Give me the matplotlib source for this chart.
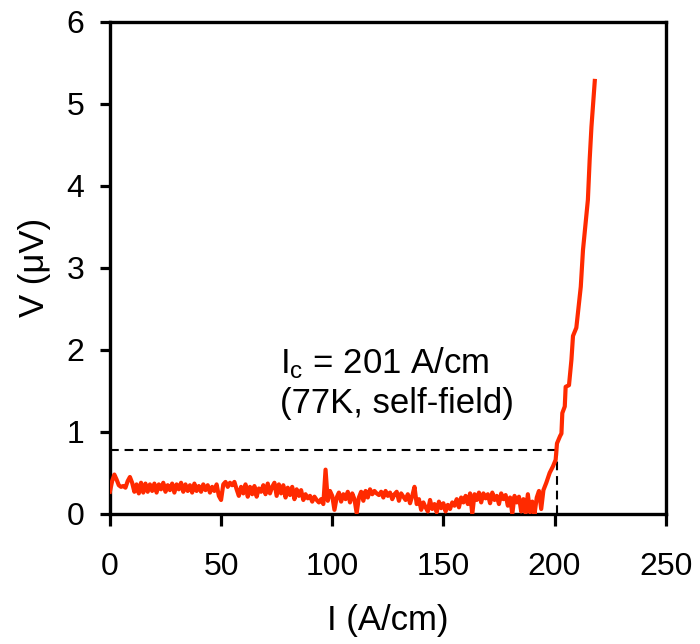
import matplotlib
matplotlib.use("Agg")
import matplotlib.pyplot as plt
import numpy as np

plt.rcParams['font.family'] = ['Liberation Sans', 'DejaVu Sans']
plt.rcParams['mathtext.fontset'] = 'custom'
plt.rcParams['mathtext.rm'] = 'Liberation Sans'
plt.rcParams['mathtext.it'] = 'Liberation Sans:italic'

# Noise region, I = 0..194 A/cm (step 1)
noise_v = [
    0.27, 0.40, 0.48, 0.42, 0.35, 0.33, 0.34, 0.32, 0.40, 0.45,
    0.38, 0.27, 0.36, 0.25, 0.38, 0.26, 0.37, 0.27, 0.36, 0.28,
    0.37, 0.26, 0.36, 0.30, 0.38, 0.27, 0.35, 0.29, 0.37, 0.26,
    0.36, 0.30, 0.38, 0.27, 0.36, 0.28, 0.35, 0.26, 0.37, 0.28,
    0.34, 0.27, 0.36, 0.29, 0.35, 0.26, 0.33, 0.28, 0.36, 0.22,
    0.17, 0.36, 0.39, 0.33, 0.38, 0.35, 0.39, 0.30, 0.22, 0.33,
    0.25, 0.36, 0.21, 0.33, 0.24, 0.34, 0.21, 0.31, 0.27, 0.35,
    0.24, 0.37, 0.25, 0.33, 0.38, 0.22, 0.36, 0.25, 0.35, 0.20,
    0.32, 0.23, 0.33, 0.18, 0.30, 0.22, 0.29, 0.17, 0.24, 0.19,
    0.22, 0.15, 0.21, 0.17, 0.14, 0.18, 0.12, 0.54, 0.16, 0.28,
    0.22, 0.05, 0.20, 0.26, 0.15, 0.24, 0.18, 0.27, 0.14, 0.25,
    0.18, 0.01, 0.20, 0.27, 0.16, 0.28, 0.20, 0.30, 0.24, 0.28,
    0.25, 0.23, 0.27, 0.20, 0.28, 0.22, 0.26, 0.18, 0.24, 0.27,
    0.16, 0.25, 0.21, 0.17, 0.24, 0.13, 0.22, 0.33, 0.12, 0.18,
    0.05, 0.14, 0.08, 0.03, 0.17, 0.06, 0.12, 0.02, 0.15, 0.07,
    0.13, 0.03, 0.11, 0.06, 0.14, 0.10, 0.18, 0.08, 0.20, 0.14,
    0.22, 0.12, 0.25, 0.00, 0.24, 0.17, 0.26, 0.14, 0.25, 0.19,
    0.24, 0.13, 0.26, 0.17, 0.22, 0.12, 0.25, 0.18, 0.23, 0.10,
    0.20, 0.00, 0.22, 0.14, 0.21, 0.03, 0.18, 0.01, 0.24, 0.02,
    0.15, 0.00, 0.20, 0.28, 0.06,
]
noise_i = list(range(len(noise_v)))

# Transition region
rise_i = [195, 196.3, 197.8, 199.3, 200.5, 201.1, 202.5, 203.1, 203.5, 204.6,
          205, 206.5, 207.6, 208.3, 209.8, 211.8, 212.8, 215.0, 215.8, 216.6, 218.1]
rise_v = [0.29, 0.38, 0.50, 0.58, 0.66, 0.86, 0.95, 0.98, 1.23, 1.31,
          1.55, 1.57, 1.88, 2.17, 2.27, 2.77, 3.22, 3.83, 4.32, 4.72, 5.28]

ic = 201
vc = 0.78

x_ticks = [0, 50, 100, 150, 200, 250]
y_ticks = [0, 1, 2, 3, 4, 5, 6]

I = noise_i + rise_i
V = noise_v + rise_v

fig = plt.figure(figsize=(7, 6.44), dpi=100)
ax = fig.add_axes([0.157, 0.202, 0.794, 0.764])

ax.plot(I, V, color='#FF2A00', lw=3.0, solid_joinstyle='round', zorder=3)
ax.plot([0, ic], [vc, vc], color='black', lw=1.5, ls=(0, (4.2, 2.8)), zorder=2)
ax.plot([ic, ic], [0, vc], color='black', lw=1.5, ls=(0, (4.2, 2.8)), zorder=2)

ax.set_xlim(0, 250)
ax.set_ylim(0, 6)
ax.set_xticks(x_ticks)
ax.set_yticks(y_ticks)
ax.tick_params(direction='out', width=2.3, labelsize=23)
ax.tick_params(axis='x', length=8.5, pad=19)
ax.tick_params(axis='y', length=7.5, pad=11)
for s in ax.spines.values():
    s.set_linewidth(2.4)

ax.set_xlabel('I (A/cm)', fontsize=25, labelpad=16)
ax.set_ylabel('V (μV)', fontsize=25, labelpad=11)

ax.text(76.4, 2.06, r'I$_\mathrm{c}$ = 201 A/cm' + '\n(77K, self-field)',
        fontsize=25, va='top', ha='left', linespacing=1.25)

fig.savefig('out.png', dpi=100)
